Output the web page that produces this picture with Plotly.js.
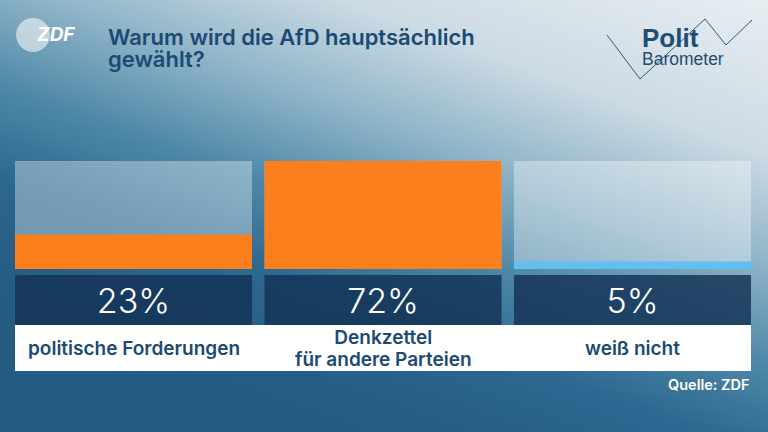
<!DOCTYPE html>
<html>
<head>
<meta charset="utf-8">
<script src="https://cdn.plot.ly/plotly-3.0.1.min.js"></script>
<style>
html,body{margin:0;padding:0;width:768px;height:432px;overflow:hidden;}
#bg{position:absolute;left:0;top:0;width:768px;height:432px;
background:linear-gradient(200deg,#e8eef2 0%,#cbdae3 22%,#8fb4c8 37%,#4f89a8 51%,#2d6890 64%,#255c82 78%,#235a80 100%);}
#chart{position:absolute;left:0;top:0;width:768px;height:432px;}
</style>
</head>
<body>
<div id="bg"></div>
<div id="chart"></div>
<script>
// ---- data ----
const categories = ["politische Forderungen", "Denkzettel<br>für andere Parteien", "weiß nicht"];
const values = [23, 72, 5];
const valueLabels = ["23%", "72%", "5%"];
const barColors = ["#fb7f1c", "#fb7f1c", "#62bff2"];
const scaleMax = 72;
const titleLines = ["Warum wird die AfD hauptsächlich", "gewählt?"];
const sourceText = "Quelle: ZDF";

// ---- layout helpers (pixel -> paper) ----
const W = 768, H = 432;
const mL = 15, mR = 17, mT = 161, mB = 61;
const pw = W - mL - mR, ph = H - mT - mB;
const px = x => (x - mL) / pw;
const py = y => (H - mB - y) / ph;
const navyTop = -4, navyBottom = -37.33, whiteBottom = -68;

const barWidth = 0.95;
const fontMain = "Inter, Roboto, 'DejaVu Sans', sans-serif";
const navyText = "#1b4a72";
const span = (t, s) => '<span style="font-size:' + s + 'px">' + t + '</span>';

const traces = [
  { type: "bar", x: categories, y: categories.map(() => scaleMax), width: barWidth,
    marker: { color: "rgba(255,255,255,0.35)" }, hoverinfo: "skip" },
  { type: "bar", x: categories, y: values, width: barWidth,
    marker: { color: barColors }, hoverinfo: "skip" },
  { type: "bar", x: categories, y: categories.map(() => navyTop - navyBottom),
    base: categories.map(() => navyBottom), width: barWidth,
    marker: { color: "rgba(20,50,85,0.82)" },
    text: valueLabels, textposition: "inside", insidetextanchor: "middle",
    textangle: 0, constraintext: "none",
    textfont: { color: "#ffffff", size: 34, family: fontMain, weight: 300 }, hoverinfo: "skip" }
];

const annotations = categories.map((c, i) => ({
  x: c, y: (navyBottom + whiteBottom) / 2, xref: "x", yref: "y",
  text: c.split("<br>").map(t => span(t, 19)).join("<br>"), showarrow: false, align: "center",
  font: { family: fontMain, size: 17, color: navyText, weight: 600 }
}));
annotations.push(
  { xref: "paper", yref: "paper", x: px(106), y: py(22), xanchor: "left", yanchor: "top",
    text: titleLines.map(t => span(t, 22)).join("<br>"), showarrow: false, align: "left",
    font: { family: fontMain, size: 17, color: navyText, weight: 600 } },
  { xref: "paper", yref: "paper", x: px(752), y: py(384), xanchor: "right", yanchor: "middle",
    text: sourceText, showarrow: false,
    font: { family: fontMain, size: 14.5, color: "#ffffff", weight: 600 } },
  { xref: "paper", yref: "paper", x: px(56), y: py(35), xanchor: "center", yanchor: "middle",
    text: "<b><i>ZDF</i></b>", showarrow: false,
    font: { family: fontMain, size: 19, color: "#ffffff" } },
  { xref: "paper", yref: "paper", x: px(640), y: py(21), xanchor: "left", yanchor: "top",
    text: "<b>" + span("Polit", 26) + "</b><br>" + span("Barometer", 17.5), showarrow: false, align: "left",
    font: { family: "Liberation Sans, Arial, sans-serif", size: 13.8, color: "#1f4d74" } }
);

const zig = [[607,35],[640,79],[705,19],[726,45],[752,20]];
const zigPath = zig.map((p, i) => (i ? "L" : "M") + px(p[0]) + "," + py(p[1])).join(" ");

const shapes = [
  { type: "rect", xref: "paper", yref: "y", x0: 0, x1: 1, y0: whiteBottom, y1: navyBottom,
    fillcolor: "#ffffff", line: { width: 0 }, layer: "below" },
  { type: "circle", xref: "paper", yref: "paper", x0: px(16), x1: px(50), y0: py(52), y1: py(18),
    fillcolor: "rgba(255,255,255,0.55)", line: { width: 0 } },
  { type: "path", xref: "paper", yref: "paper", path: zigPath,
    line: { color: "#2e5a7e", width: 1 } }
];

const layout = {
  width: W, height: H,
  margin: { l: mL, r: mR, t: mT, b: mB, pad: 0 },
  paper_bgcolor: "rgba(0,0,0,0)", plot_bgcolor: "rgba(0,0,0,0)",
  barmode: "overlay", showlegend: false,
  xaxis: { type: "category", range: [-barWidth / 2, categories.length - 1 + barWidth / 2],
    visible: false, fixedrange: true },
  yaxis: { range: [whiteBottom, scaleMax], visible: false, fixedrange: true },
  annotations: annotations, shapes: shapes
};

Plotly.newPlot("chart", traces, layout, { displayModeBar: false, staticPlot: true });
</script>
</body>
</html>
